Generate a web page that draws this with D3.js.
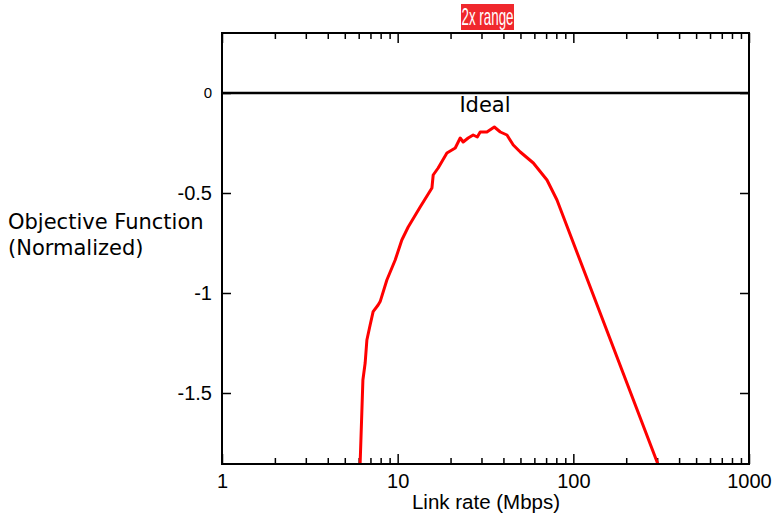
<!DOCTYPE html>
<html>
<head>
<meta charset="utf-8">
<script src="https://cdn.jsdelivr.net/npm/d3@7"></script>
<style>
  body { margin: 0; background: #fff; }
  svg { font-family: "DejaVu Sans", sans-serif; }
</style>
</head>
<body>
<svg class="chart"></svg>
<script>
// Link rate (Mbps) and normalized objective function
var linkRate = [6.0, 6.11, 6.25, 6.34, 6.53, 6.68, 6.97, 7.25, 7.74, 7.95, 8.68, 9.68, 10.56, 11.48, 13.43,
    15.67, 15.93, 17.0, 19.07, 21.27, 22.7, 23.6, 25.2, 26.9, 28.4, 29.5, 32.2, 35.5, 38.4, 41.9,
    45.5, 49.9, 59.2, 70.8, 80.7, 320];
var objective = [-2.0, -1.86, -1.60, -1.435, -1.35, -1.235, -1.16, -1.093, -1.06, -1.043, -0.935, -0.835, -0.735, -0.67, -0.57,
    -0.475, -0.41, -0.375, -0.30, -0.275, -0.225, -0.245, -0.225, -0.21, -0.22, -0.195, -0.195, -0.17, -0.195, -0.21,
    -0.26, -0.295, -0.35, -0.435, -0.535, -1.91];

var xMajor = [1, 10, 100, 1000];
var yMajor = [0, -0.5, -1, -1.5];
var idealValue = 0;

/******** Make Chart ********/
const width = 774;
const height = 513;
const marginTop = 33;
const marginRight = 25;
const marginBottom = 49;
const marginLeft = 222;

var svg = d3.select(".chart")
    .attr("width", width)
    .attr("height", height);

var x = d3.scaleLog()
    .domain([1, 1000])
    .range([marginLeft, width - marginRight]);

var y = d3.scaleLinear()
    .domain([-1.855, 0.3])
    .range([height - marginBottom, marginTop]);

// minor ticks 2..9 per decade
var xMinor = [];
[1, 10, 100].forEach(d => {
    for (var k = 2; k <= 9; k++) xMinor.push(d * k);
});

svg.append("clipPath").attr("id", "clip")
    .append("rect")
    .attr("x", marginLeft)
    .attr("y", marginTop)
    .attr("width", width - marginRight - marginLeft)
    .attr("height", height - marginBottom - marginTop);

// bottom axis
var xAxis = svg.append("g")
    .attr("class", "axis")
    .attr("transform", `translate(0,${height - marginBottom})`)
    .call(d3.axisBottom(x).tickValues(xMajor).tickFormat(d => String(d)).tickSize(-10).tickPadding(10));
xAxis.append("g")
    .call(d3.axisBottom(x).tickValues(xMinor).tickFormat("").tickSize(-6));

// top axis (mirror)
var xTop = svg.append("g")
    .attr("transform", `translate(0,${marginTop})`)
    .call(d3.axisTop(x).tickValues(xMajor).tickFormat("").tickSize(-10));
xTop.append("g")
    .call(d3.axisTop(x).tickValues(xMinor).tickFormat("").tickSize(-6));

// left axis
var yAxis = svg.append("g")
    .attr("transform", `translate(${marginLeft},0)`)
    .call(d3.axisLeft(y).tickValues(yMajor).tickFormat(d => String(d)).tickSize(-9).tickPadding(10));

// right axis (mirror)
svg.append("g")
    .attr("transform", `translate(${width - marginRight},0)`)
    .call(d3.axisRight(y).tickValues(yMajor).tickFormat("").tickSize(-9));

svg.selectAll(".tick line").attr("stroke", "#000").attr("stroke-width", 1.5);
svg.selectAll(".domain").remove();
svg.selectAll(".tick text")
    .attr("fill", "#000")
    .style("font-size", "20px")
    .style("font-family", "Liberation Sans, Arial, sans-serif");
yAxis.selectAll(".tick text")
    .filter(d => d === 0)
    .style("font-size", "15px");
xAxis.selectAll(".tick text").attr("dy", "0.72em");

// ideal line
svg.append("line")
    .attr("x1", marginLeft)
    .attr("x2", width - marginRight)
    .attr("y1", y(idealValue))
    .attr("y2", y(idealValue))
    .attr("stroke", "#000")
    .attr("stroke-width", 2.5);

svg.append("text")
    .attr("x", 485)
    .attr("y", 111.5)
    .attr("text-anchor", "middle")
    .style("font-size", "21px")
    .text("Ideal");

// curve
var pts = linkRate.map((d, i) => [d, objective[i]]);
svg.append("path")
    .datum(pts)
    .attr("clip-path", "url(#clip)")
    .attr("fill", "none")
    .attr("stroke", "#ff0000")
    .attr("stroke-width", 3)
    .attr("stroke-linejoin", "round")
    .attr("d", d3.line().x(d => x(d[0])).y(d => y(d[1])));

// frame
svg.append("rect")
    .attr("x", marginLeft)
    .attr("y", marginTop)
    .attr("width", width - marginRight - marginLeft)
    .attr("height", height - marginBottom - marginTop)
    .attr("fill", "none")
    .attr("stroke", "#000")
    .attr("stroke-width", 2);

// "2x range" tag
svg.append("rect")
    .attr("x", 461)
    .attr("y", 4)
    .attr("width", 53)
    .attr("height", 26)
    .attr("fill", "#f0282d");
svg.append("text")
    .attr("x", 461.5)
    .attr("y", 25)
    .attr("textLength", 52)
    .attr("lengthAdjust", "spacingAndGlyphs")
    .attr("fill", "#fff")
    .style("font-size", "24px")
    .style("font-family", "Liberation Sans, sans-serif")
    .text("2x range");

// axis titles
svg.append("text")
    .attr("x", 486)
    .attr("y", 509)
    .attr("text-anchor", "middle")
    .style("font-size", "20.5px")
    .style("font-family", "Liberation Sans, Arial, sans-serif")
    .text("Link rate (Mbps)");

var yTitle = svg.append("text")
    .style("font-size", "21px");
yTitle.append("tspan").attr("x", 8).attr("y", 229).text("Objective Function");
yTitle.append("tspan").attr("x", 8).attr("y", 255).text("(Normalized)");
</script>
</body>
</html>
